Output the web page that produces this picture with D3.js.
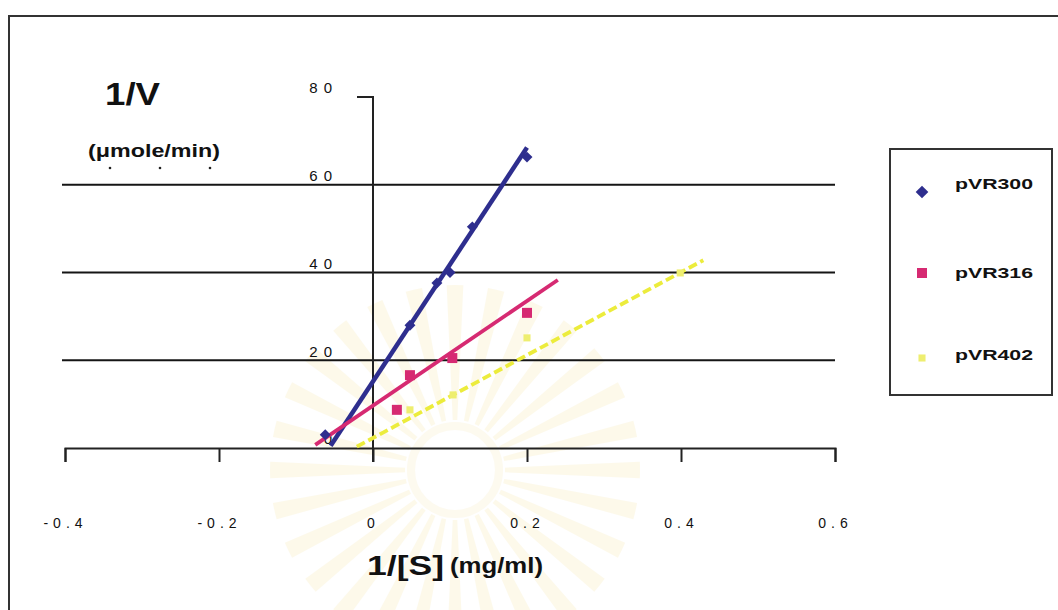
<!DOCTYPE html>
<html>
<head>
<meta charset="utf-8">
<script src="https://cdn.jsdelivr.net/npm/d3@7"></script>
<style>
  body { margin: 0; background: #fff; }
  svg { display: block; }
</style>
</head>
<body>
<svg id="chart" width="1058" height="610"></svg>
<script>
// Lineweaver-Burk plot: 1/V against 1/[S] for three constructs
const seriesNames = ["pVR300", "pVR316", "pVR402"];
const seriesColors = ["#2e2e8e", "#d62a72", "#ecec3c"];

const pVR300X = [-0.062, 0.048, 0.083, 0.100, 0.129, 0.200];
const pVR300Y = [3.0, 28.0, 37.6, 40.0, 50.4, 66.3];

const pVR316X = [0.031, 0.048, 0.103, 0.200];
const pVR316Y = [8.7, 16.6, 20.5, 30.8];

const pVR402X = [0.048, 0.104, 0.200, 0.399];
const pVR402Y = [8.7, 12.1, 25.1, 39.9];

// linear trend lines (start and end of each fitted line)
const trendX = [[-0.055, 0.200], [-0.075, 0.240], [-0.021, 0.429]];
const trendY = [[0.5, 68.5], [0.7, 38.3], [0.3, 42.8]];

const xTicks = [-0.4, -0.2, 0, 0.2, 0.4, 0.6];
const yTicks = [0, 20, 40, 60, 80];
const gridTicks = [20, 40, 60];

const FONT = "Liberation Sans, Arial, sans-serif";
const svg = d3.select("#chart");
const x = d3.scaleLinear().domain([-0.4, 0.6]).range([65, 835]);
const y = d3.scaleLinear().domain([0, 80]).range([448, 97]);

// faint seal printed on the page behind the chart
const seal = svg.append("g").attr("transform", "translate(455,470)").attr("opacity", 0.25);
const rayArc = d3.arc();
d3.range(28).forEach(i => {
  const a = i * (2 * Math.PI / 28);
  seal.append("path")
    .attr("d", rayArc({innerRadius: 50, outerRadius: 185, startAngle: a - 0.045, endAngle: a + 0.045}))
    .attr("fill", "#f8eab0");
});
seal.append("circle").attr("r", 44).attr("fill", "none").attr("stroke", "#f8ecc0").attr("stroke-width", 8);

// outer frame
svg.append("path")
  .attr("d", "M9,610V16H1058")
  .attr("fill", "none").attr("stroke", "#333").attr("stroke-width", 2);

// horizontal gridlines
svg.append("g").selectAll("line").data(gridTicks).join("line")
  .attr("x1", 62).attr("x2", x(0.6))
  .attr("y1", d => y(d)).attr("y2", d => y(d))
  .attr("stroke", "#151515").attr("stroke-width", 2);

// x axis
const xAxis = svg.append("g").attr("transform", `translate(0,${y(0)})`)
  .call(d3.axisBottom(x).tickValues(xTicks).tickSize(14).tickSizeOuter(14).tickPadding(56)
    .tickFormat(d => d === 0 ? "0" : d.toFixed(1)));
xAxis.select(".domain").attr("stroke", "#222").attr("stroke-width", 2);
xAxis.selectAll(".tick line").attr("stroke", "#222").attr("stroke-width", 2);
xAxis.selectAll(".tick text")
  .attr("font-family", FONT)
  .attr("font-size", 14).attr("letter-spacing", "5px").attr("fill", "#111")
  .attr("dx", "0px");

// y axis
const yAxis = svg.append("g").attr("transform", `translate(${x(0)},0)`)
  .call(d3.axisLeft(y).tickValues(yTicks).tickSize(0).tickPadding(35).tickFormat(d3.format("d")));
yAxis.select(".domain").remove();
yAxis.selectAll(".tick text")
  .attr("font-family", FONT)
  .attr("font-size", 15).attr("letter-spacing", "6px").attr("fill", "#111")
  .attr("dy", "-0.28em");
svg.append("path")
  .attr("d", `M${x(0) - 16},${y(80)}H${x(0)}V${y(0) + 14}`)
  .attr("fill", "none").attr("stroke", "#222").attr("stroke-width", 2);

// trend lines
const lineGen = d3.line().x(d => x(d[0])).y(d => y(d[1]));
const trendWidths = [4.5, 3.8, 3.8];
seriesNames.forEach((name, i) => {
  const pts = d3.zip(trendX[i], trendY[i]);
  svg.append("path")
    .attr("d", lineGen(pts))
    .attr("fill", "none")
    .attr("stroke", seriesColors[i])
    .attr("stroke-width", trendWidths[i])
    .attr("stroke-dasharray", i === 2 ? "9,4" : null);
});

// markers
const seriesX = [pVR300X, pVR316X, pVR402X];
const seriesY = [pVR300Y, pVR316Y, pVR402Y];
const sym = [
  d3.symbol(d3.symbolSquare, 60),
  d3.symbol(d3.symbolSquare, 100),
  d3.symbol(d3.symbolSquare, 50)
];
const markerFill = ["#2e2e8e", "#d62a72", "#eeee70"];
seriesNames.forEach((name, i) => {
  svg.append("g").selectAll("path").data(d3.zip(seriesX[i], seriesY[i])).join("path")
    .attr("d", sym[i])
    .attr("transform", d => `translate(${x(d[0])},${y(d[1])})` + (i === 0 ? " rotate(45)" : ""))
    .attr("fill", markerFill[i]);
});

// axis titles
function label(xp, yp, size, width, str) {
  return svg.append("text")
    .attr("x", xp).attr("y", yp)
    .attr("font-family", FONT).attr("font-size", size).attr("font-weight", "bold")
    .attr("fill", "#111")
    .attr("textLength", width).attr("lengthAdjust", "spacingAndGlyphs")
    .text(str);
}
label(105, 105, 31, 55, "1/V");
label(88, 157, 18, 132, "(μmole/min)");
svg.append("g").selectAll("circle").data([110, 160, 210]).join("circle")
  .attr("cx", d => d).attr("cy", 168).attr("r", 1.3).attr("fill", "#222");

label(367, 575, 27, 77, "1/[S]");
label(450, 573, 22, 93, "(mg/ml)");

// legend
const legend = svg.append("g");
legend.append("rect")
  .attr("x", 890).attr("y", 149).attr("width", 162).attr("height", 246)
  .attr("fill", "#fff").attr("stroke", "#333").attr("stroke-width", 2);
const legendY = [189, 278, 360];
const legendMarkY = [192, 273, 358];
const legendSym = [
  d3.symbol(d3.symbolSquare, 80),
  d3.symbol(d3.symbolSquare, 100),
  d3.symbol(d3.symbolSquare, 50)
];
seriesNames.forEach((name, i) => {
  legend.append("path")
    .attr("d", legendSym[i])
    .attr("transform", `translate(922,${legendMarkY[i]})` + (i === 0 ? " rotate(45)" : ""))
    .attr("fill", markerFill[i]);
  legend.append("text")
    .attr("x", 955).attr("y", legendY[i])
    .attr("font-family", FONT)
    .attr("font-size", 15).attr("font-weight", "bold").attr("fill", "#111")
    .attr("textLength", 78).attr("lengthAdjust", "spacingAndGlyphs")
    .text(name);
});
</script>
</body>
</html>
